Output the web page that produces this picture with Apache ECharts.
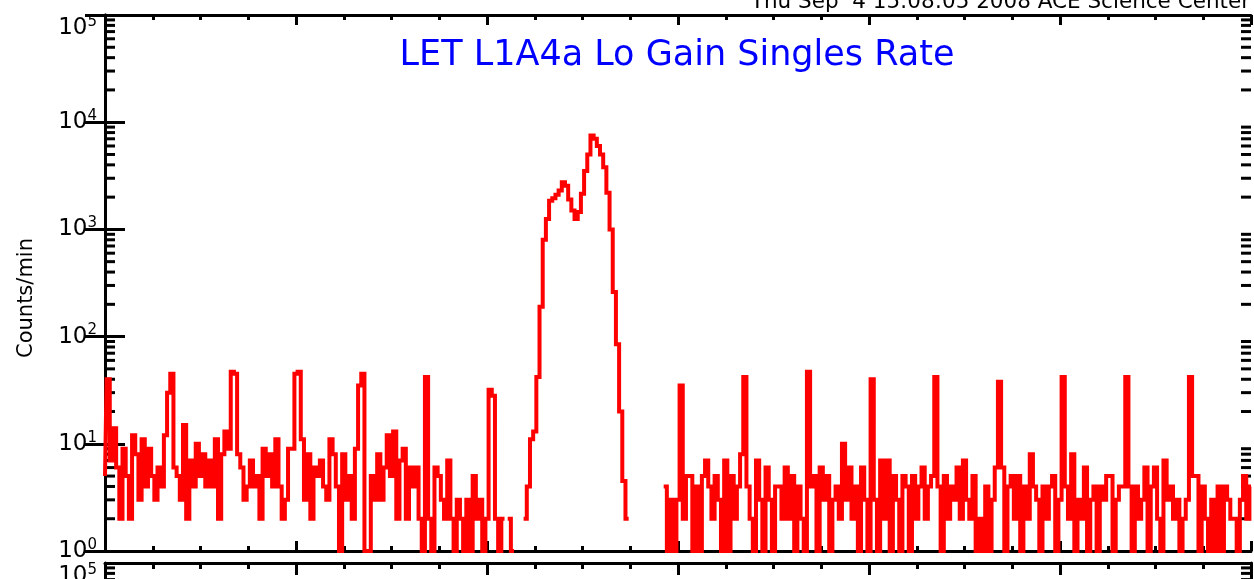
<!DOCTYPE html>
<html>
<head>
<meta charset="utf-8">
<script src="https://cdn.jsdelivr.net/npm/echarts@6/dist/echarts.min.js"></script>
<style>
  html, body { margin: 0; padding: 0; background: #fff; }
  #chart { width: 1254px; height: 579px; }
</style>
</head>
<body>
<div id="chart"></div>
<script>
// x axis: days across the panel, one sample every 1/60 day
const SAMPLES_PER_DAY = 60;
const dayMin = 0;
const dayMax = 6;

// y axis decades and their exponent labels
const decades = [1, 10, 100, 1000, 10000, 100000];
const decadeExp = ['0', '1', '2', '3', '4', '5'];

// LET L1A4a lo gain singles, counts/min (null = no counts)
const rate = [
  5, 40, 7, 14, 6, 2, 9, 5, 2, 12, 8, 3, 11, 4, 9, 5, 3, 6, 4, 12,
  30, 45, 6, 5, 3, 15, 2, 7, 4, 10, 5, 8, 4, 7, 4, 11, 2, 8, 13, 9,
  47, 45, 8, 6, 3, 4, 7, 4, 5, 2, 9, 5, 8, 4, 11, 4, 2, 3, 9, 9,
  45, 47, 11, 3, 8, 2, 6, 5, 7, 4, 3, 11, 8, 4, 1, 8, 3, 5, 2, 9,
  35, 45, 1, 1, 5, 3, 8, 3, 6, 12, 5, 13, 2, 7, 9, 2, 6, 4, 6, 2,
  1, 42, 2, 1, 6, 5, 3, 2, 7, 2, 1, 3, 2, 1, 3, 1, 5, 2, 3, 1,
  2, 32, 28, 2, 1, 2, null, 2, 1, null, null, null, 2, 4, 11, 13, 42, 190, 800, 1250,
  // the event
  1850, 1950, 2100, 2300, 2750, 2550, 1900, 1500, 1250, 1450, 2150, 3500, 5000,
  7500, 7000, 6000, 5000, 3800, 2200, 1000, 260, 85, 20, 4.5, 2,
  null, null, null, null, null, null, null, null, null, null, null,
  4, 1, 3, 1, 3,
  35, 2, 5, 5, 1, 4, 1, 5, 7, 4, 2, 5, 3, 1, 7, 1, 5, 2, 4, 8,
  42, 4, 2, 1, 7, 3, 1, 6, 3, 1, 4, 4, 2, 6, 2, 5, 1, 4, 2, 1,
  47, 4, 5, 1, 6, 3, 5, 1, 3, 4, 2, 10, 3, 6, 2, 4, 1, 6, 3, 1,
  40, 3, 1, 7, 2, 7, 1, 5, 3, 1, 5, 4, 1, 5, 2, 4, 6, 2, 4, 5,
  42, 4, 1, 5, 2, 4, 3, 6, 2, 7, 3, 2, 5, 1, 2, 1, 4, 1, 3, 6,
  38, 6, 1, 4, 5, 2, 5, 1, 4, 2, 8, 4, 3, 1, 4, 2, 4, 5, 1, 3,
  42, 4, 2, 8, 1, 3, 2, 6, 1, 3, 4, 1, 4, 3, 5, 5, 1, 3, 4, 4,
  42, 4, 1, 4, 2, 3, 6, 1, 4, 6, 2, 1, 7, 3, 4, 2, 3, 1, 2, 3,
  42, 5, 5, 1, 4, 2, 1, 3, 1, 4, 1, 4, 3, 2, 2, 1, 3, 5, 2, 4
];

const titleText = 'LET L1A4a Lo Gain Singles Rate';
const stampText = 'Thu Sep  4 15:08:05 2008 ACE Science Center';

const FONT = 'DejaVu Sans';

// 2..9 minor ticks inside each decade
const minorVals = [];
for (let d = 0; d < decades.length - 1; d++) {
  for (let k = 2; k <= 9; k++) minorVals.push(k * decades[d]);
}

const points = rate.map((v, i) => [i / SAMPLES_PER_DAY, v]);

const chart = echarts.init(document.getElementById('chart'));

function xAx(grid, pos, major, minor) {
  return {
    type: 'value', gridIndex: grid, position: pos,
    min: dayMin, max: dayMax, interval: 1,
    axisLine: { show: true, onZero: false, lineStyle: { color: '#000', width: 3 } },
    axisTick: { show: true, inside: true, length: major, lineStyle: { color: '#000', width: 3 } },
    minorTick: { show: true, splitNumber: 4, length: minor, lineStyle: { color: '#000', width: 3 } },
    axisLabel: { show: false },
    splitLine: { show: false }
  };
}

// log axis carrying the frame line, decade ticks and (optionally) labels
function yAx(grid, pos, labels) {
  const ax = {
    type: 'log', logBase: 10, gridIndex: grid, position: pos,
    min: decades[0], max: decades[decades.length - 1],
    axisLine: { show: true, lineStyle: { color: '#000', width: 3 } },
    axisTick: { show: true, inside: true, length: 20, lineStyle: { color: '#000', width: 3 } },
    axisLabel: { show: false },
    splitLine: { show: false }
  };
  if (labels) {
    ax.axisLabel = {
      show: true,
      margin: 8,
      verticalAlignMaxLabel: 'top',
      formatter: v => '{b|10}{s|' + decadeExp[Math.round(Math.log10(v))] + '}',
      rich: {
        b: { fontFamily: FONT, fontSize: 23, color: '#000', lineHeight: 27 },
        s: { fontFamily: FONT, fontSize: 15, color: '#000', verticalAlign: 'top' }
      }
    };
  }
  return ax;
}

// 2..9 minor ticks drawn inside both frame sides, placed by the axis scale
function minorTicks(xi, yi) {
  return {
    type: 'custom', xAxisIndex: xi, yAxisIndex: yi, silent: true, clip: false,
    data: minorVals.map(v => [dayMin, v]),
    renderItem: (params, api) => {
      const l = api.coord([dayMin, api.value(1)]);
      const r = api.coord([dayMax, api.value(1)]);
      const st = { stroke: '#000', lineWidth: 3 };
      return {
        type: 'group', children: [
          { type: 'line', shape: { x1: l[0], y1: l[1], x2: l[0] + 10, y2: l[1] }, style: st },
          { type: 'line', shape: { x1: r[0], y1: r[1], x2: r[0] - 10, y2: r[1] }, style: st }
        ]
      };
    }
  };
}

const yMain = yAx(0, 'left', true);
yMain.name = 'Counts/min';
yMain.nameLocation = 'middle';
yMain.nameGap = 68;
yMain.nameRotate = 90;
yMain.nameTextStyle = { fontFamily: FONT, fontSize: 21, color: '#000', padding: [0, 30, 0, 0] };

chart.setOption({
  animation: false,
  backgroundColor: '#fff',
  grid: [
    { left: 105, top: 15, width: 1146, height: 536, outerBoundsMode: 'none' },
    { left: 105, top: 563, width: 1146, height: 536, outerBoundsMode: 'none' }
  ],
  xAxis: [
    xAx(0, 'bottom', 10, 5),
    xAx(0, 'top', 10, 5),
    xAx(1, 'top', 12, 6)
  ],
  yAxis: [
    yMain,
    yAx(0, 'right', false),
    yAx(1, 'left', true),
    yAx(1, 'right', false)
  ],
  graphic: [
    {
      type: 'text', x: 677, y: 56,
      style: { text: titleText, fontFamily: FONT, fontSize: 35, fill: '#0000ff',
        align: 'center', verticalAlign: 'middle' }
    },
    {
      type: 'text', x: 1250, y: 13,
      style: { text: stampText, fontFamily: FONT, fontSize: 21.5, fill: '#000',
        align: 'right', verticalAlign: 'bottom' }
    }
  ],
  series: [
    {
      type: 'line',
      xAxisIndex: 0,
      yAxisIndex: 0,
      data: points,
      step: 'middle',
      showSymbol: false,
      connectNulls: false,
      clip: true,
      lineStyle: { color: '#ff0000', width: 4, join: 'miter' }
    },
    minorTicks(0, 0),
    minorTicks(2, 2)
  ]
});
</script>
</body>
</html>
